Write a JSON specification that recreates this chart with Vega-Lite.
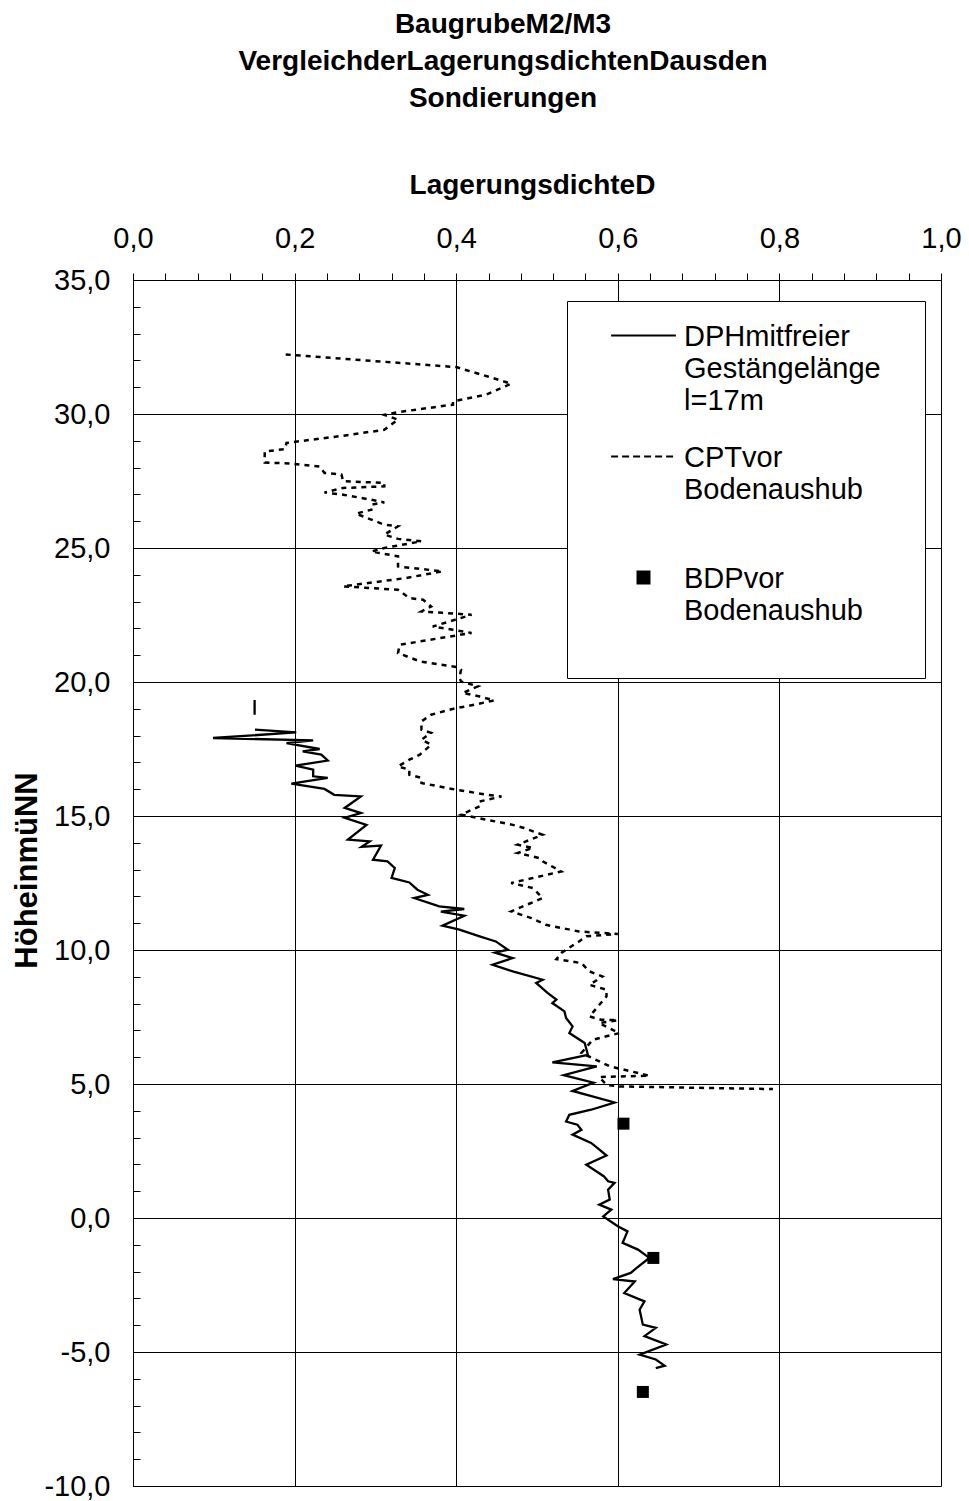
{
  "$schema": "https://vega.github.io/schema/vega-lite/v6.json",
  "autosize": "none",
  "padding": {"left": 133, "top": 280, "right": 28, "bottom": 15},
  "width": 808,
  "height": 1206,
  "background": "white",
  "config": {
    "view": {"stroke": "black", "strokeWidth": 1},
    "font": "Liberation Sans"
  },
  "title": {
    "text": ["BaugrubeM2/M3", "VergleichderLagerungsdichtenDausden", "Sondierungen"],
    "font": "Liberation Sans",
    "fontSize": 28,
    "fontWeight": "bold",
    "lineHeight": 37,
    "color": "black",
    "anchor": "middle",
    "frame": "group",
    "dx": -34,
    "offset": 58
  },
  "data": {
    "values": [
      {"s":"DPH","g":1,"i":0,"d":0.1505,"h":19.33},
      {"s":"DPH","g":1,"i":1,"d":0.1505,"h":18.78},
      {"s":"DPH","g":2,"i":2,"d":0.151,"h":18.22},
      {"s":"DPH","g":2,"i":3,"d":0.202,"h":18.12},
      {"s":"DPH","g":2,"i":4,"d":0.099,"h":17.91},
      {"s":"DPH","g":2,"i":5,"d":0.223,"h":17.82},
      {"s":"DPH","g":2,"i":6,"d":0.19,"h":17.72},
      {"s":"DPH","g":2,"i":7,"d":0.231,"h":17.5},
      {"s":"DPH","g":2,"i":8,"d":0.21,"h":17.41},
      {"s":"DPH","g":2,"i":9,"d":0.233,"h":17.29},
      {"s":"DPH","g":2,"i":10,"d":0.241,"h":17.07},
      {"s":"DPH","g":2,"i":11,"d":0.201,"h":16.88},
      {"s":"DPH","g":2,"i":12,"d":0.223,"h":16.73},
      {"s":"DPH","g":2,"i":13,"d":0.223,"h":16.48},
      {"s":"DPH","g":2,"i":14,"d":0.241,"h":16.42},
      {"s":"DPH","g":2,"i":15,"d":0.196,"h":16.21},
      {"s":"DPH","g":2,"i":16,"d":0.237,"h":16.01},
      {"s":"DPH","g":2,"i":17,"d":0.249,"h":15.79},
      {"s":"DPH","g":2,"i":18,"d":0.282,"h":15.73},
      {"s":"DPH","g":2,"i":19,"d":0.262,"h":15.3},
      {"s":"DPH","g":2,"i":20,"d":0.282,"h":15.11},
      {"s":"DPH","g":2,"i":21,"d":0.262,"h":14.93},
      {"s":"DPH","g":2,"i":22,"d":0.289,"h":14.67},
      {"s":"DPH","g":2,"i":23,"d":0.266,"h":14.12},
      {"s":"DPH","g":2,"i":24,"d":0.293,"h":14.05},
      {"s":"DPH","g":2,"i":25,"d":0.283,"h":13.85},
      {"s":"DPH","g":2,"i":26,"d":0.307,"h":13.9},
      {"s":"DPH","g":2,"i":27,"d":0.297,"h":13.37},
      {"s":"DPH","g":2,"i":28,"d":0.315,"h":13.31},
      {"s":"DPH","g":2,"i":29,"d":0.324,"h":13.06},
      {"s":"DPH","g":2,"i":30,"d":0.32,"h":12.69},
      {"s":"DPH","g":2,"i":31,"d":0.342,"h":12.52},
      {"s":"DPH","g":2,"i":32,"d":0.352,"h":12.25},
      {"s":"DPH","g":2,"i":33,"d":0.365,"h":12.06},
      {"s":"DPH","g":2,"i":34,"d":0.348,"h":11.94},
      {"s":"DPH","g":2,"i":35,"d":0.379,"h":11.63},
      {"s":"DPH","g":2,"i":36,"d":0.41,"h":11.53},
      {"s":"DPH","g":2,"i":37,"d":0.381,"h":11.43},
      {"s":"DPH","g":2,"i":38,"d":0.41,"h":11.28},
      {"s":"DPH","g":2,"i":39,"d":0.383,"h":10.91},
      {"s":"DPH","g":2,"i":40,"d":0.404,"h":10.76},
      {"s":"DPH","g":2,"i":41,"d":0.429,"h":10.51},
      {"s":"DPH","g":2,"i":42,"d":0.449,"h":10.32},
      {"s":"DPH","g":2,"i":43,"d":0.464,"h":10.01},
      {"s":"DPH","g":2,"i":44,"d":0.448,"h":9.9},
      {"s":"DPH","g":2,"i":45,"d":0.47,"h":9.7},
      {"s":"DPH","g":2,"i":46,"d":0.445,"h":9.45},
      {"s":"DPH","g":2,"i":47,"d":0.47,"h":9.2},
      {"s":"DPH","g":2,"i":48,"d":0.507,"h":8.89},
      {"s":"DPH","g":2,"i":49,"d":0.499,"h":8.77},
      {"s":"DPH","g":2,"i":50,"d":0.513,"h":8.4},
      {"s":"DPH","g":2,"i":51,"d":0.524,"h":8.15},
      {"s":"DPH","g":2,"i":52,"d":0.519,"h":8.02},
      {"s":"DPH","g":2,"i":53,"d":0.534,"h":7.71},
      {"s":"DPH","g":2,"i":54,"d":0.536,"h":7.46},
      {"s":"DPH","g":2,"i":55,"d":0.544,"h":7.15},
      {"s":"DPH","g":2,"i":56,"d":0.54,"h":6.9},
      {"s":"DPH","g":2,"i":57,"d":0.559,"h":6.53},
      {"s":"DPH","g":2,"i":58,"d":0.563,"h":6.09},
      {"s":"DPH","g":2,"i":59,"d":0.519,"h":5.81},
      {"s":"DPH","g":2,"i":60,"d":0.574,"h":5.66},
      {"s":"DPH","g":2,"i":61,"d":0.533,"h":5.33},
      {"s":"DPH","g":2,"i":62,"d":0.57,"h":5.05},
      {"s":"DPH","g":2,"i":63,"d":0.544,"h":4.74},
      {"s":"DPH","g":2,"i":64,"d":0.596,"h":4.31},
      {"s":"DPH","g":2,"i":65,"d":0.567,"h":4.04},
      {"s":"DPH","g":2,"i":66,"d":0.54,"h":3.85},
      {"s":"DPH","g":2,"i":67,"d":0.536,"h":3.6},
      {"s":"DPH","g":2,"i":68,"d":0.55,"h":3.48},
      {"s":"DPH","g":2,"i":69,"d":0.555,"h":3.29},
      {"s":"DPH","g":2,"i":70,"d":0.544,"h":3.11},
      {"s":"DPH","g":2,"i":71,"d":0.567,"h":2.8},
      {"s":"DPH","g":2,"i":72,"d":0.575,"h":2.61},
      {"s":"DPH","g":2,"i":73,"d":0.586,"h":2.33},
      {"s":"DPH","g":2,"i":74,"d":0.561,"h":1.99},
      {"s":"DPH","g":2,"i":75,"d":0.583,"h":1.55},
      {"s":"DPH","g":2,"i":76,"d":0.588,"h":1.37},
      {"s":"DPH","g":2,"i":77,"d":0.596,"h":1.31},
      {"s":"DPH","g":2,"i":78,"d":0.588,"h":1.06},
      {"s":"DPH","g":2,"i":79,"d":0.59,"h":0.69},
      {"s":"DPH","g":2,"i":80,"d":0.577,"h":0.5},
      {"s":"DPH","g":2,"i":81,"d":0.592,"h":0.31},
      {"s":"DPH","g":2,"i":82,"d":0.582,"h":0.06},
      {"s":"DPH","g":2,"i":83,"d":0.6,"h":-0.31},
      {"s":"DPH","g":2,"i":84,"d":0.612,"h":-0.5},
      {"s":"DPH","g":2,"i":85,"d":0.606,"h":-0.93},
      {"s":"DPH","g":2,"i":86,"d":0.625,"h":-1.18},
      {"s":"DPH","g":2,"i":87,"d":0.639,"h":-1.49},
      {"s":"DPH","g":2,"i":88,"d":0.623,"h":-1.87},
      {"s":"DPH","g":2,"i":89,"d":0.616,"h":-2.05},
      {"s":"DPH","g":2,"i":90,"d":0.594,"h":-2.28},
      {"s":"DPH","g":2,"i":91,"d":0.621,"h":-2.37},
      {"s":"DPH","g":2,"i":92,"d":0.608,"h":-2.8},
      {"s":"DPH","g":2,"i":93,"d":0.633,"h":-3.11},
      {"s":"DPH","g":2,"i":94,"d":0.627,"h":-3.42},
      {"s":"DPH","g":2,"i":95,"d":0.631,"h":-3.98},
      {"s":"DPH","g":2,"i":96,"d":0.647,"h":-4.1},
      {"s":"DPH","g":2,"i":97,"d":0.633,"h":-4.41},
      {"s":"DPH","g":2,"i":98,"d":0.66,"h":-4.72},
      {"s":"DPH","g":2,"i":99,"d":0.627,"h":-5.1},
      {"s":"DPH","g":2,"i":100,"d":0.647,"h":-5.28},
      {"s":"DPH","g":2,"i":101,"d":0.658,"h":-5.51},
      {"s":"DPH","g":2,"i":102,"d":0.647,"h":-5.6},

      {"s":"CPT","g":3,"i":0,"d":0.189,"h":32.22},
      {"s":"CPT","g":3,"i":1,"d":0.4,"h":31.75},
      {"s":"CPT","g":3,"i":2,"d":0.439,"h":31.4},
      {"s":"CPT","g":3,"i":3,"d":0.468,"h":31.13},
      {"s":"CPT","g":3,"i":4,"d":0.437,"h":30.72},
      {"s":"CPT","g":3,"i":5,"d":0.396,"h":30.47},
      {"s":"CPT","g":3,"i":6,"d":0.396,"h":30.35},
      {"s":"CPT","g":3,"i":7,"d":0.326,"h":30.06},
      {"s":"CPT","g":3,"i":8,"d":0.311,"h":29.97},
      {"s":"CPT","g":3,"i":9,"d":0.328,"h":29.79},
      {"s":"CPT","g":3,"i":10,"d":0.311,"h":29.41},
      {"s":"CPT","g":3,"i":11,"d":0.26,"h":29.19},
      {"s":"CPT","g":3,"i":12,"d":0.19,"h":28.92},
      {"s":"CPT","g":3,"i":13,"d":0.188,"h":28.69},
      {"s":"CPT","g":3,"i":14,"d":0.163,"h":28.6},
      {"s":"CPT","g":3,"i":15,"d":0.163,"h":28.19},
      {"s":"CPT","g":3,"i":16,"d":0.196,"h":28.15},
      {"s":"CPT","g":3,"i":17,"d":0.231,"h":28.04},
      {"s":"CPT","g":3,"i":18,"d":0.237,"h":27.8},
      {"s":"CPT","g":3,"i":19,"d":0.258,"h":27.74},
      {"s":"CPT","g":3,"i":20,"d":0.26,"h":27.49},
      {"s":"CPT","g":3,"i":21,"d":0.311,"h":27.43},
      {"s":"CPT","g":3,"i":22,"d":0.311,"h":27.3},
      {"s":"CPT","g":3,"i":23,"d":0.26,"h":27.24},
      {"s":"CPT","g":3,"i":24,"d":0.237,"h":27.07},
      {"s":"CPT","g":3,"i":25,"d":0.26,"h":26.99},
      {"s":"CPT","g":3,"i":26,"d":0.295,"h":26.8},
      {"s":"CPT","g":3,"i":27,"d":0.311,"h":26.7},
      {"s":"CPT","g":3,"i":28,"d":0.295,"h":26.62},
      {"s":"CPT","g":3,"i":29,"d":0.295,"h":26.43},
      {"s":"CPT","g":3,"i":30,"d":0.276,"h":26.28},
      {"s":"CPT","g":3,"i":31,"d":0.295,"h":26.06},
      {"s":"CPT","g":3,"i":32,"d":0.311,"h":25.87},
      {"s":"CPT","g":3,"i":33,"d":0.328,"h":25.81},
      {"s":"CPT","g":3,"i":34,"d":0.311,"h":25.5},
      {"s":"CPT","g":3,"i":35,"d":0.328,"h":25.34},
      {"s":"CPT","g":3,"i":36,"d":0.357,"h":25.25},
      {"s":"CPT","g":3,"i":37,"d":0.311,"h":25.0},
      {"s":"CPT","g":3,"i":38,"d":0.295,"h":24.87},
      {"s":"CPT","g":3,"i":39,"d":0.328,"h":24.69},
      {"s":"CPT","g":3,"i":40,"d":0.328,"h":24.31},
      {"s":"CPT","g":3,"i":41,"d":0.383,"h":24.13},
      {"s":"CPT","g":3,"i":42,"d":0.338,"h":23.88},
      {"s":"CPT","g":3,"i":43,"d":0.26,"h":23.57},
      {"s":"CPT","g":3,"i":44,"d":0.328,"h":23.44},
      {"s":"CPT","g":3,"i":45,"d":0.342,"h":23.13},
      {"s":"CPT","g":3,"i":46,"d":0.359,"h":23.07},
      {"s":"CPT","g":3,"i":47,"d":0.369,"h":22.82},
      {"s":"CPT","g":3,"i":48,"d":0.357,"h":22.63},
      {"s":"CPT","g":3,"i":49,"d":0.4,"h":22.55},
      {"s":"CPT","g":3,"i":50,"d":0.419,"h":22.51},
      {"s":"CPT","g":3,"i":51,"d":0.371,"h":22.07},
      {"s":"CPT","g":3,"i":52,"d":0.396,"h":21.95},
      {"s":"CPT","g":3,"i":53,"d":0.419,"h":21.83},
      {"s":"CPT","g":3,"i":54,"d":0.33,"h":21.39},
      {"s":"CPT","g":3,"i":55,"d":0.328,"h":21.08},
      {"s":"CPT","g":3,"i":56,"d":0.355,"h":20.77},
      {"s":"CPT","g":3,"i":57,"d":0.4,"h":20.56},
      {"s":"CPT","g":3,"i":58,"d":0.406,"h":20.46},
      {"s":"CPT","g":3,"i":59,"d":0.404,"h":20.15},
      {"s":"CPT","g":3,"i":60,"d":0.406,"h":20.02},
      {"s":"CPT","g":3,"i":61,"d":0.427,"h":19.84},
      {"s":"CPT","g":3,"i":62,"d":0.408,"h":19.59},
      {"s":"CPT","g":3,"i":63,"d":0.429,"h":19.46},
      {"s":"CPT","g":3,"i":64,"d":0.447,"h":19.31},
      {"s":"CPT","g":3,"i":65,"d":0.412,"h":19.09},
      {"s":"CPT","g":3,"i":66,"d":0.4,"h":19.03},
      {"s":"CPT","g":3,"i":67,"d":0.369,"h":18.78},
      {"s":"CPT","g":3,"i":68,"d":0.357,"h":18.53},
      {"s":"CPT","g":3,"i":69,"d":0.357,"h":18.22},
      {"s":"CPT","g":3,"i":70,"d":0.369,"h":18.1},
      {"s":"CPT","g":3,"i":71,"d":0.357,"h":17.85},
      {"s":"CPT","g":3,"i":72,"d":0.369,"h":17.66},
      {"s":"CPT","g":3,"i":73,"d":0.355,"h":17.29},
      {"s":"CPT","g":3,"i":74,"d":0.342,"h":17.1},
      {"s":"CPT","g":3,"i":75,"d":0.328,"h":16.85},
      {"s":"CPT","g":3,"i":76,"d":0.342,"h":16.73},
      {"s":"CPT","g":3,"i":77,"d":0.342,"h":16.54},
      {"s":"CPT","g":3,"i":78,"d":0.357,"h":16.42},
      {"s":"CPT","g":3,"i":79,"d":0.357,"h":16.23},
      {"s":"CPT","g":3,"i":80,"d":0.4,"h":15.98},
      {"s":"CPT","g":3,"i":81,"d":0.439,"h":15.79},
      {"s":"CPT","g":3,"i":82,"d":0.456,"h":15.73},
      {"s":"CPT","g":3,"i":83,"d":0.429,"h":15.54},
      {"s":"CPT","g":3,"i":84,"d":0.429,"h":15.36},
      {"s":"CPT","g":3,"i":85,"d":0.406,"h":15.05},
      {"s":"CPT","g":3,"i":86,"d":0.47,"h":14.67},
      {"s":"CPT","g":3,"i":87,"d":0.484,"h":14.55},
      {"s":"CPT","g":3,"i":88,"d":0.507,"h":14.3},
      {"s":"CPT","g":3,"i":89,"d":0.476,"h":13.93},
      {"s":"CPT","g":3,"i":90,"d":0.495,"h":13.81},
      {"s":"CPT","g":3,"i":91,"d":0.476,"h":13.62},
      {"s":"CPT","g":3,"i":92,"d":0.503,"h":13.43},
      {"s":"CPT","g":3,"i":93,"d":0.507,"h":13.31},
      {"s":"CPT","g":3,"i":94,"d":0.53,"h":12.93},
      {"s":"CPT","g":3,"i":95,"d":0.468,"h":12.5},
      {"s":"CPT","g":3,"i":96,"d":0.495,"h":12.31},
      {"s":"CPT","g":3,"i":97,"d":0.507,"h":11.94},
      {"s":"CPT","g":3,"i":98,"d":0.468,"h":11.44},
      {"s":"CPT","g":3,"i":99,"d":0.493,"h":11.19},
      {"s":"CPT","g":3,"i":100,"d":0.511,"h":10.94},
      {"s":"CPT","g":3,"i":101,"d":0.552,"h":10.69},
      {"s":"CPT","g":3,"i":102,"d":0.6,"h":10.6},
      {"s":"CPT","g":3,"i":103,"d":0.561,"h":10.51},
      {"s":"CPT","g":3,"i":104,"d":0.552,"h":10.32},
      {"s":"CPT","g":3,"i":105,"d":0.53,"h":9.89},
      {"s":"CPT","g":3,"i":106,"d":0.524,"h":9.66},
      {"s":"CPT","g":3,"i":107,"d":0.555,"h":9.51},
      {"s":"CPT","g":3,"i":108,"d":0.565,"h":9.2},
      {"s":"CPT","g":3,"i":109,"d":0.581,"h":9.01},
      {"s":"CPT","g":3,"i":110,"d":0.565,"h":8.7},
      {"s":"CPT","g":3,"i":111,"d":0.586,"h":8.52},
      {"s":"CPT","g":3,"i":112,"d":0.586,"h":8.27},
      {"s":"CPT","g":3,"i":113,"d":0.579,"h":8.02},
      {"s":"CPT","g":3,"i":114,"d":0.565,"h":7.52},
      {"s":"CPT","g":3,"i":115,"d":0.579,"h":7.4},
      {"s":"CPT","g":3,"i":116,"d":0.6,"h":7.38},
      {"s":"CPT","g":3,"i":117,"d":0.577,"h":7.27},
      {"s":"CPT","g":3,"i":118,"d":0.602,"h":6.9},
      {"s":"CPT","g":3,"i":119,"d":0.569,"h":6.65},
      {"s":"CPT","g":3,"i":120,"d":0.555,"h":6.16},
      {"s":"CPT","g":3,"i":121,"d":0.59,"h":5.66},
      {"s":"CPT","g":3,"i":122,"d":0.639,"h":5.31},
      {"s":"CPT","g":3,"i":123,"d":0.577,"h":5.26},
      {"s":"CPT","g":3,"i":124,"d":0.586,"h":4.97},
      {"s":"CPT","g":3,"i":125,"d":0.602,"h":4.91},
      {"s":"CPT","g":3,"i":126,"d":0.792,"h":4.81},

      {"s":"BDP","g":4,"i":0,"d":0.607,"h":3.52},
      {"s":"BDP","g":4,"i":1,"d":0.644,"h":-1.49},
      {"s":"BDP","g":4,"i":2,"d":0.631,"h":-6.49}
    ]
  },
  "encoding": {
    "x": {
      "field": "d",
      "type": "quantitative",
      "scale": {"domain": [0, 1], "nice": false, "zero": false},
      "axis": {
        "orient": "top",
        "values": [0,0.04,0.08,0.12,0.16,0.2,0.24,0.28,0.32,0.36,0.4,0.44,0.48,0.52,0.56,0.6,0.64,0.68,0.72,0.76,0.8,0.84,0.88,0.92,0.96,1],
        "labelExpr": "abs(datum.value*5 - round(datum.value*5)) < 0.001 ? replace(format(datum.value, '.1f'), '.', ',') : ''",
        "labelOverlap": false,
        "labelBound": false,
        "labelFlush": false,
        "labelFont": "Liberation Sans",
        "labelFontSize": 29,
        "labelColor": "black",
        "labelPadding": 20,
        "tickSize": 7,
        "tickColor": "black",
        "tickWidth": 1,
        "domainColor": "black",
        "domainWidth": 1,
        "grid": true,
        "gridColor": "black",
        "gridWidth": 1,
        "gridOpacity": {"condition": {"test": "abs(datum.value*5 - round(datum.value*5)) < 0.001 && datum.value > 0.01 && datum.value < 0.99", "value": 1}, "value": 0},
        "title": "LagerungsdichteD",
        "titleFont": "Liberation Sans",
        "titleFontSize": 28,
        "titleFontWeight": "bold",
        "titleColor": "black",
        "titleX": 399,
        "titleY": -95,
        "titleAlign": "center",
        "titleBaseline": "middle"
      }
    },
    "y": {
      "field": "h",
      "type": "quantitative",
      "scale": {"domain": [-10, 35], "nice": false, "zero": false},
      "axis": {
        "orient": "left",
        "values": [-10,-9,-8,-7,-6,-5,-4,-3,-2,-1,0,1,2,3,4,5,6,7,8,9,10,11,12,13,14,15,16,17,18,19,20,21,22,23,24,25,26,27,28,29,30,31,32,33,34,35],
        "labelExpr": "datum.value % 5 == 0 ? replace(replace(format(datum.value, '.1f'), '.', ','), '\u2212', '-') : ''",
        "labelOverlap": false,
        "labelBound": false,
        "labelFlush": false,
        "labelFont": "Liberation Sans",
        "labelFontSize": 29,
        "labelColor": "black",
        "labelPadding": 30,
        "tickSize": -7,
        "tickColor": "black",
        "tickWidth": 1,
        "domainColor": "black",
        "domainWidth": 1,
        "grid": true,
        "gridColor": "black",
        "gridWidth": 1,
        "gridOpacity": {"condition": {"test": "datum.value % 5 == 0 && datum.value > -10 && datum.value < 35", "value": 1}, "value": 0},
        "title": "HöheinmüNN",
        "titleFont": "Liberation Sans",
        "titleFontSize": 31,
        "titleFontWeight": "bold",
        "titleColor": "black",
        "titleAngle": 270,
        "titleX": -106,
        "titleY": 590,
        "titleAlign": "center",
        "titleBaseline": "middle"
      }
    },
    "color": {
      "field": "s",
      "type": "nominal",
      "scale": {"domain": ["DPH", "CPT", "BDP"], "range": ["black", "black", "black"]},
      "legend": {
        "orient": "none",
        "legendX": 434,
        "legendY": 21,
        "title": null,
        "strokeColor": "black",
        "fillColor": "white",
        "padding": 20,
        "labelFont": "Liberation Sans",
        "labelFontSize": 29,
        "labelColor": "black",
        "labelLimit": 0,
        "labelBaseline": "alphabetic",
        "labelOffset": 26,
        "symbolOffset": 42,
        "symbolSize": 729,
        "symbolStrokeWidth": 2,
        "rowPadding": 26,
        "labelExpr": "datum.value == 'DPH' ? ['DPHmitfreier', 'Gestängelänge\u00a0\u00a0\u00a0\u200b', 'l=17m'] : datum.value == 'CPT' ? ['CPTvor', 'Bodenaushub', ''] : ['BDPvor', 'Bodenaushub', '']",
        "encode": {
          "symbols": {
            "update": {
              "shape": {"signal": "datum.value == 'BDP' ? 'M-0.444,-0.444H0.444V0.444H-0.444Z' : 'M-2.4,0H2.4'"},
              "size": {"value": 729},
              "fill": {"signal": "datum.value == 'BDP' ? 'black' : 'transparent'"},
              "stroke": {"signal": "datum.value == 'BDP' ? 'transparent' : 'black'"},
              "strokeDash": {"signal": "datum.value == 'CPT' ? [7, 4] : [1, 0]"},
              "strokeWidth": {"value": 2},
              "opacity": {"value": 1}
            }
          },
          "labels": {
            "update": {
              "dy": {"value": 10},
              "lineHeight": {"value": 32}
            }
          }
        }
      }
    }
  },
  "layer": [
    {
      "transform": [{"filter": "datum.s == 'DPH'"}],
      "mark": {"type": "line", "strokeWidth": 2.3, "strokeJoin": "miter", "clip": true},
      "encoding": {
        "order": {"field": "i", "type": "quantitative"},
        "detail": {"field": "g", "type": "nominal"}
      }
    },
    {
      "transform": [{"filter": "datum.s == 'CPT'"}],
      "mark": {"type": "line", "strokeWidth": 2.5, "strokeDash": [5, 5], "clip": true},
      "encoding": {
        "order": {"field": "i", "type": "quantitative"}
      }
    },
    {
      "transform": [{"filter": "datum.s == 'BDP'"}],
      "mark": {"type": "point", "shape": "square", "size": 144, "filled": true, "opacity": 1, "strokeWidth": 0},
      "encoding": {}
    }
  ]
}
